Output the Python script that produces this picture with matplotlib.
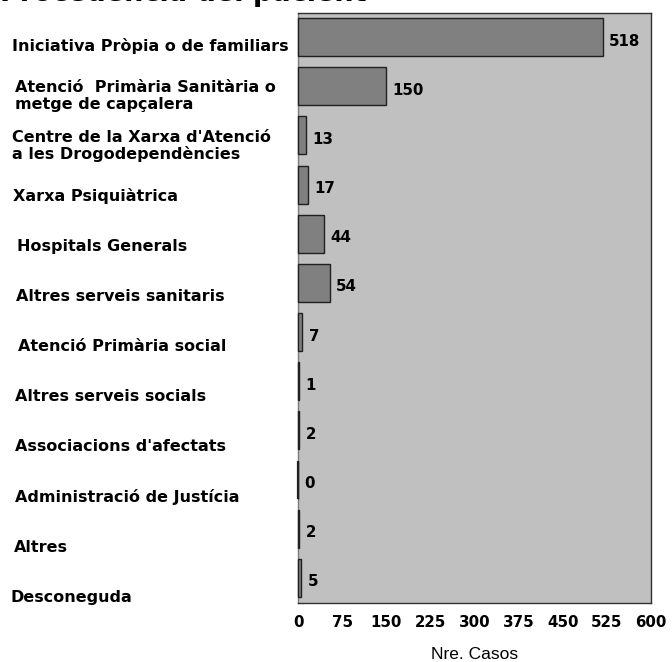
import matplotlib
matplotlib.use('Agg')
import matplotlib.pyplot as plt

# Procedència del pacient - number of cases per origin
categories = [
    "Iniciativa Pròpia o de familiars",
    "Atenció  Primària Sanitària o\nmetge de capçalera",
    "Centre de la Xarxa d'Atenció\na les Drogodependències",
    "Xarxa Psiquiàtrica",
    "Hospitals Generals",
    "Altres serveis sanitaris",
    "Atenció Primària social",
    "Altres serveis socials",
    "Associacions d'afectats",
    "Administració de Justícia",
    "Altres",
    "Desconeguda",
]
cases = [518, 150, 13, 17, 44, 54, 7, 1, 2, 0, 2, 5]
xticks = [0, 75, 150, 225, 300, 375, 450, 525, 600]

W, H = 672, 662
BOLD = dict(fontweight='bold', family='DejaVu Sans')
BAR_H = 0.77

fig = plt.figure(figsize=(W / 100, H / 100), dpi=100)
ax = fig.add_axes([298 / W, 1 - 602.5 / H, 353 / W, 590 / H])
ax.set_facecolor('#c0c0c0')

ypos = list(range(len(categories)))
bars = ax.barh(ypos, cases, height=BAR_H, color='#808080', edgecolor='#202020',
               linewidth=1.0, zorder=3)
for b in bars:
    b.set_clip_on(False)
# empty categories still show the bar outline as a dark line on the axis
for y, v in zip(ypos, cases):
    if v == 0:
        ax.vlines(v, y - BAR_H / 2, y + BAR_H / 2, color='#202020', lw=1.6,
                  zorder=3, clip_on=False)
ax.set_xlim(0, 600)
ax.set_ylim(len(categories) - 0.5, -0.5)

for y, v in zip(ypos, cases):
    ax.text(v + 11, y + 0.08, str(v), va='center', ha='left', fontsize=10.8, **BOLD)

ax.set_yticks([])
ax.set_xticks(xticks)
ax.set_xticklabels([str(t) for t in xticks], fontsize=10.8, **BOLD)
ax.tick_params(axis='x', length=0, pad=9)
ax.set_xlabel("Nre. Casos", fontsize=12.5, family='Liberation Sans', labelpad=12)
for s in ax.spines.values():
    s.set_color('#303030')
    s.set_linewidth(1)
ax.spines['left'].set_color('#7a7a7a')

# category labels down the left side (slightly wider spacing than bars)
left_px = [12, 15, 12, 13, 17, 16, 18, 15, 15, 15, 14, 10]
for i, lab in enumerate(categories):
    ypx = 46 + i * 50.1
    fig.text(left_px[i] / W, 1 - ypx / H, lab, ha='left', va='center',
             fontsize=11.5, linespacing=1.1, **BOLD)

# title, cut off by the top edge as in the original
fig.text(0 / W, 1 - 1 / H, "Procedència del pacient", ha='left', va='baseline',
         fontsize=19.5, **BOLD)

fig.savefig('out.png', dpi=100)
